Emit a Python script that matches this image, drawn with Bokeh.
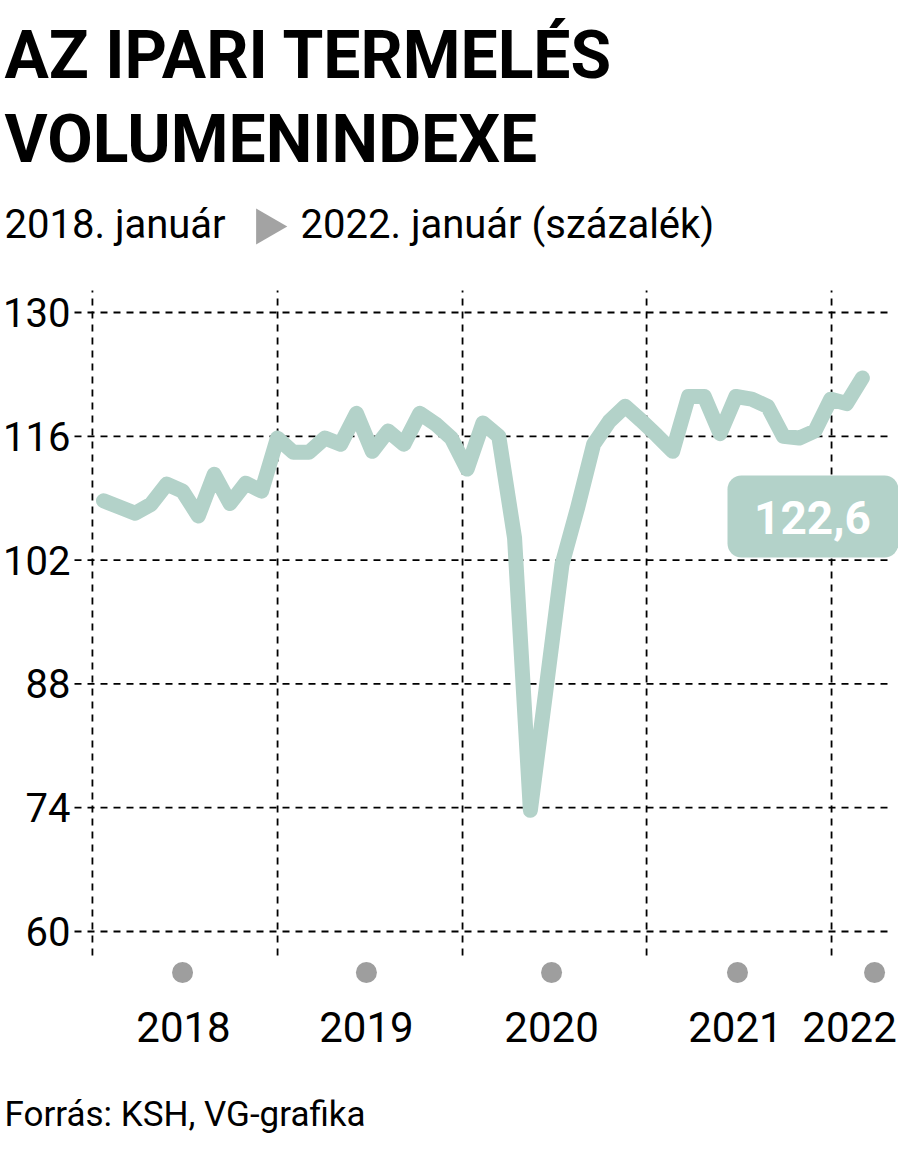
import math
from bokeh.plotting import figure
from bokeh.models import BoxAnnotation, Label
from bokeh.core.properties import value
from bokeh.embed import file_html
from bokeh.resources import INLINE

# ---------------- data ----------------
title_lines = ["AZ IPARI TERMELÉS", "VOLUMENINDEXE"]
subtitle_start = "2018. január"
subtitle_end = "2022. január (százalék)"
source_text = "Forrás: KSH, VG-grafika"

# months since 2018 January (0 = 2018-01 ... 48 = 2022-01)
month_index = list(range(49))
index_values = [
    108.7, 108.0, 107.3, 108.3, 110.6, 109.8, 107.0, 111.7, 108.4, 110.7, 109.8, 115.8,
    114.2, 114.2, 115.8, 115.1, 118.6, 114.3, 116.6, 115.1, 118.6, 117.4, 115.8, 112.3,
    117.5, 116.0, 104.5, 73.7, 87.5, 101.5, 108.0, 115.1, 117.7, 119.4, 117.8, 116.1,
    114.3, 120.5, 120.5, 116.3, 120.5, 120.2, 119.4, 116.0, 115.8, 116.6, 120.2, 119.7,
    122.6,
]
y_ticks = [60, 74, 88, 102, 116, 130]
y_tick_labels = [str(t) for t in y_ticks]
year_labels = ["2018", "2019", "2020", "2021", "2022"]
year_label_pos = [5.06, 16.63, 28.34, 39.97, 47.19]
year_dot_pos = [5.0, 16.63, 28.34, 40.10, 48.77]
grid_x = [-0.70, 11.01, 22.71, 34.35, 46.05]

# ---------------- layout (page pixels) ----------------
W, H = 898, 1145
PAGE = 0
PX0, PX_PER_MONTH = 103.0, 15.81      # page x of month 0, px per month
PY130, PY_PER_UNIT = 312.0, 8.843     # page y of value 130, px per index point

FRAME_L, FRAME_R, FRAME_T, FRAME_B = PAGE, PAGE + W, PAGE, PAGE + H
X0 = (FRAME_L - PX0) / PX_PER_MONTH
X1 = (FRAME_R - PX0) / PX_PER_MONTH
Y1 = 130 + (PY130 - FRAME_T) / PY_PER_UNIT
Y0 = 130 - (FRAME_B - PY130) / PY_PER_UNIT


def dx(px):
    return X0 + (px - FRAME_L) * (X1 - X0) / (FRAME_R - FRAME_L)


def dy(py):
    return Y1 - (py - FRAME_T) * (Y1 - Y0) / (FRAME_B - FRAME_T)


FONT = value("Roboto")
LINE_COLOR = "#b3d2c9"
GRID_DASH = "7 6"

p = figure(width=W, height=H, x_range=(X0, X1), y_range=(Y0, Y1),
           output_backend="svg", toolbar_location=None, title=None,
           x_axis_type=None, y_axis_type=None,
           min_border_left=0, min_border_right=0, min_border_top=0, min_border_bottom=0)
p.outline_line_color = None
p.background_fill_color = "white"
p.border_fill_color = "white"

# ---------- header (text vertically centred on cap height) ----------
p.text(x=[dx(4), dx(4)], y=[dy(55), dy(139)], text=title_lines,
       text_font=FONT, text_font_style="bold", text_font_size=value("66px"),
       text_color="black", text_align="left", text_baseline="middle")
p.text(x=[dx(4), dx(300)], y=[dy(224), dy(224)], text=[subtitle_start, subtitle_end],
       text_font=FONT, text_font_size=value("40px"),
       text_color="black", text_align="left", text_baseline="middle")
p.scatter(x=[dx(266)], y=[dy(226)], marker="triangle", size=36, angle=-math.pi / 2,
          fill_color="#a3a3a3", line_color=None)

# ---------- grid ----------
n_y = len(y_ticks)
p.segment(x0=[dx(74)] * n_y, y0=y_ticks, x1=[dx(890)] * n_y, y1=y_ticks,
          line_color="black", line_width=1.8, line_dash=GRID_DASH)
n_x = len(grid_x)
p.segment(x0=grid_x, y0=[dy(955)] * n_x, x1=grid_x, y1=[dy(290)] * n_x,
          line_color="black", line_width=1.8, line_dash=GRID_DASH)

# y tick labels
p.text(x=[dx(70)] * n_y, y=y_ticks, text=y_tick_labels, text_font=FONT,
       text_font_size=value("40px"), text_color="black",
       text_align="right", text_baseline="middle")

# ---------- data line ----------
p.line(month_index, index_values, line_color=LINE_COLOR, line_width=15,
       line_join="round", line_cap="round")

# ---------- x axis: dots and year labels ----------
p.scatter(year_dot_pos, [dy(972)] * len(year_dot_pos), size=21, marker="circle",
          fill_color="#9e9e9e", line_color=None)
p.text(x=year_label_pos, y=[dy(1026)] * len(year_label_pos), text=year_labels,
       text_font=FONT, text_font_size=value("42px"), text_color="black",
       text_align="center", text_baseline="middle")

# ---------- last value badge ----------
p.add_layout(BoxAnnotation(left=dx(727), right=dx(898), top=dy(475), bottom=dy(557),
                           border_radius=14, fill_color=LINE_COLOR, fill_alpha=1.0,
                           line_color=None))
last_text = f"{index_values[-1]:.1f}".replace(".", ",")
p.add_layout(Label(x=dx(812), y=dy(517), text=last_text, text_align="center",
                   text_baseline="middle", text_font="Roboto", text_font_style="bold",
                   text_font_size="46px", text_color="white"))

# ---------- footer ----------
p.text(x=[dx(4)], y=[dy(1114)], text=[source_text], text_font=FONT,
       text_font_size=value("35px"), text_color="black",
       text_align="left", text_baseline="middle")

open("out.html", "w").write(file_html(p, INLINE))
